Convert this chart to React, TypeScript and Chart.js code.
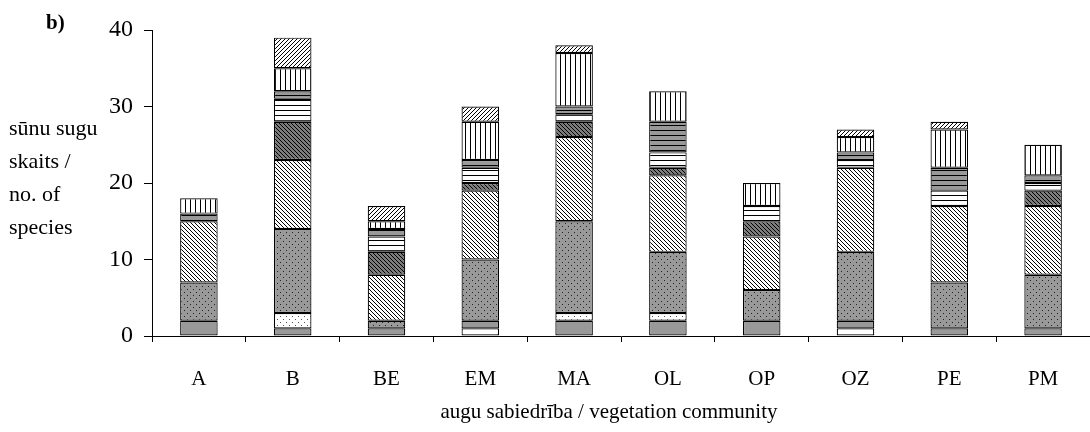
import React, { useEffect, useRef } from 'react';
import { Chart, registerables } from 'chart.js';

Chart.register(...registerables);

// Vegetation communities on the category axis
const categories = ['A', 'B', 'BE', 'EM', 'MA', 'OL', 'OP', 'OZ', 'PE', 'PM'];

// Species counts per group, listed from the bottom of each stack upwards
const whitePlain = [0, 0, 0, 1, 0, 0, 0, 1, 0, 0];
const grayPlain = [2, 1, 1, 1, 2, 2, 2, 1, 1, 1];
const whiteDotted = [0, 2, 0, 0, 1, 1, 0, 0, 0, 0];
const grayDotted = [5, 11, 1, 8, 12, 8, 4, 9, 6, 7];
const whiteBackslash = [8, 9, 6, 9, 11, 10, 7, 11, 10, 9];
const darkBackslash = [0, 5, 3, 1, 2, 1, 2, 0, 0, 2];
const whiteHorizontal = [0, 3, 2, 2, 1, 2, 2, 1, 2, 1];
const grayHorizontal = [1, 1, 1, 1, 1, 4, 0, 1, 3, 1];
const verticalLines = [2, 3, 1, 5, 7, 4, 3, 2, 5, 4];
const forwardSlash = [0, 4, 2, 2, 1, 0, 0, 1, 1, 0];

const yTicks = [0, 10, 20, 30, 40];

const yTitleLines = ['sūnu sugu', 'skaits /', 'no. of', 'species'];
const xTitle = 'augu sabiedrība / vegetation community';
const panelLabel = 'b)';

const GRAY = '#999999';
const DARK = '#7c7c7c';
const SERIF = '"Liberation Serif", "DejaVu Serif", serif';

type Painter = (g: CanvasRenderingContext2D, s: number) => void;

function makePattern(size: number, bg: string, paint: Painter): CanvasPattern | string {
  const c = document.createElement('canvas');
  c.width = size;
  c.height = size;
  const g = c.getContext('2d');
  if (!g) return bg;
  g.fillStyle = bg;
  g.fillRect(0, 0, size, size);
  g.fillStyle = '#000';
  paint(g, size);
  const p = g.createPattern(c, 'repeat');
  return p || bg;
}

const dots: Painter = (g) => {
  g.fillStyle = '#222';
  g.fillRect(1, 1, 1, 1);
  g.fillRect(4, 4, 1, 1);
};
const sparseDots: Painter = (g) => {
  g.fillStyle = '#555';
  g.fillRect(1, 1, 1, 1);
  g.fillRect(4, 4, 1, 1);
};
const backslash: Painter = (g, s) => {
  for (let i = 0; i < s; i++) g.fillRect(i, i, 1, 1);
};
const slash: Painter = (g, s) => {
  for (let i = 0; i < s; i++) g.fillRect(s - 1 - i, i, 1, 1);
};
const horizontal: Painter = (g, s) => {
  g.fillRect(0, 0, s, 1);
};
const vertical: Painter = (g, s) => {
  g.fillRect(0, 0, 1, s);
};

const textPlugin = {
  id: 'freeText',
  afterDraw(chart: Chart) {
    const ctx = chart.ctx;
    ctx.save();
    ctx.fillStyle = '#000';
    ctx.textBaseline = 'middle';
    ctx.textAlign = 'left';
    ctx.font = `bold 21px ${SERIF}`;
    ctx.fillText(panelLabel, 46, 24);
    ctx.font = `22px ${SERIF}`;
    yTitleLines.forEach((line, i) => ctx.fillText(line, 9, 129 + i * 33));
    ctx.textAlign = 'center';
    ctx.font = `21px ${SERIF}`;
    ctx.fillText(xTitle, 609, 412);
    ctx.restore();
  },
};

export default function App() {
  const canvasRef = useRef<HTMLCanvasElement | null>(null);

  useEffect(() => {
    const canvas = canvasRef.current;
    if (!canvas) return;

    const fills = {
      whitePlain: '#ffffff',
      grayPlain: GRAY,
      whiteDotted: makePattern(6, '#ffffff', sparseDots),
      grayDotted: makePattern(6, GRAY, dots),
      whiteBackslash: makePattern(4, '#ffffff', backslash),
      darkBackslash: makePattern(4, DARK, backslash),
      whiteHorizontal: makePattern(5, '#ffffff', horizontal),
      grayHorizontal: makePattern(5, GRAY, horizontal),
      verticalLines: makePattern(5, '#ffffff', vertical),
      forwardSlash: makePattern(4, '#ffffff', slash),
    };

    const series: [string, number[], CanvasPattern | string][] = [
      ['whitePlain', whitePlain, fills.whitePlain],
      ['grayPlain', grayPlain, fills.grayPlain],
      ['whiteDotted', whiteDotted, fills.whiteDotted],
      ['grayDotted', grayDotted, fills.grayDotted],
      ['whiteBackslash', whiteBackslash, fills.whiteBackslash],
      ['darkBackslash', darkBackslash, fills.darkBackslash],
      ['whiteHorizontal', whiteHorizontal, fills.whiteHorizontal],
      ['grayHorizontal', grayHorizontal, fills.grayHorizontal],
      ['verticalLines', verticalLines, fills.verticalLines],
      ['forwardSlash', forwardSlash, fills.forwardSlash],
    ];

    const chart = new Chart(canvas, {
      type: 'bar',
      data: {
        labels: categories,
        datasets: series.map(([label, values, fill]) => ({
          label,
          data: values.map((v) => (v === 0 ? null : v)),
          backgroundColor: fill as any,
          borderColor: '#000',
          borderWidth: 1.2,
          borderSkipped: false,
          categoryPercentage: 1,
          barPercentage: 0.4,
        })),
      },
      options: {
        animation: false,
        responsive: false,
        maintainAspectRatio: false,
        events: [],
        layout: { padding: { left: 0, right: 0, top: 30, bottom: 0 } },
        plugins: {
          legend: { display: false },
          tooltip: { enabled: false },
          title: { display: false },
        },
        scales: {
          x: {
            stacked: true,
            offset: true,
            afterFit: (s: any) => {
              s.height = 96;
            },
            grid: {
              offset: true,
              drawOnChartArea: false,
              drawTicks: true,
              tickLength: 6,
              color: '#000',
              lineWidth: 1,
            },
            border: { display: true, color: '#000', width: 1 },
            ticks: {
              color: '#000',
              padding: 25,
              font: { family: SERIF, size: 21 },
            },
          },
          y: {
            stacked: true,
            min: 0,
            max: 40,
            afterFit: (s: any) => {
              s.width = 152;
            },
            afterBuildTicks: (s: any) => {
              s.ticks = yTicks.map((v) => ({ value: v }));
            },
            grid: {
              drawOnChartArea: false,
              drawTicks: true,
              tickLength: 8,
              color: '#000',
              lineWidth: 1,
            },
            border: { display: true, color: '#000', width: 1 },
            ticks: {
              color: '#000',
              padding: 11,
              font: { family: SERIF, size: 24 },
            },
          },
        },
      },
      plugins: [textPlugin],
    });

    return () => chart.destroy();
  }, []);

  return (
    <div style={{ position: 'fixed', left: 0, top: 0, width: 1090, height: 432, background: '#fff' }}>
      <canvas ref={canvasRef} width={1090} height={432} style={{ display: 'block' }} />
    </div>
  );
}
